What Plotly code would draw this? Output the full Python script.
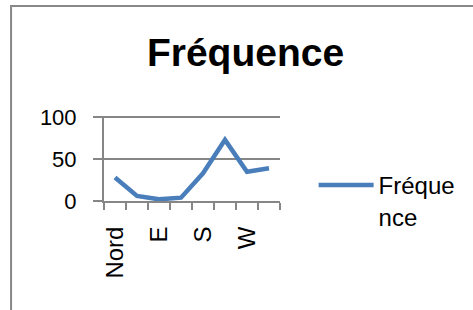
import plotly.graph_objects as go

categories = ["Nord", "NE", "E", "SE", "S", "SW", "W", "NW"]
values = [28, 6, 2, 4, 33, 73, 35, 39]
series_name = "Fréquence"
legend_label = "Fréque<br>nce"
y_ticks = [0, 50, 100]
shown_labels = [c if i % 2 == 0 else "" for i, c in enumerate(categories)]

W, H = 473, 310
L, R, T, B = 104, 191, 116, 109
pw, ph = W - L - R, H - T - B

def px_x(px):
    return (px - L) / pw

def px_y(py):
    return (H - B - py) / ph

FONT = "Liberation Sans"
GRAY = "#868686"

fig = go.Figure()
fig.add_trace(go.Scatter(
    x=categories, y=values, mode="lines", name=legend_label,
    line=dict(color="#4A7EBB", width=4.5),
))

fig.update_layout(
    width=W, height=H,
    margin=dict(l=L, r=R, t=T, b=B, pad=0),
    paper_bgcolor="white", plot_bgcolor="white",
    font=dict(family=FONT, size=22, color="black"),
    title=dict(text="<b>" + series_name + "</b>", x=245.5 / W, xanchor="center",
               xref="container", y=1 - 52 / H, yref="container", yanchor="middle",
               font=dict(family=FONT, size=39, color="black")),
    showlegend=True,
    legend=dict(x=px_x(316), y=px_y(163), xanchor="left", yanchor="top",
                valign="top", itemwidth=55, font=dict(family=FONT, size=24),
                bgcolor="rgba(0,0,0,0)", borderwidth=0),
    xaxis=dict(
        type="category", tickson="boundaries",
        tickmode="array", tickvals=categories, ticktext=shown_labels,
        tickangle=-90, ticks="outside", ticklen=7, tickwidth=2, tickcolor=GRAY,
        showline=True, linecolor=GRAY, linewidth=2, showgrid=False,
        range=[-0.5, len(categories) - 0.5],
        ticklabelstandoff=14, tickfont=dict(family=FONT, size=24),
    ),
    yaxis=dict(
        range=[0, 101.5], tickmode="array", tickvals=y_ticks,
        ticks="outside", ticklen=9, tickwidth=2, tickcolor=GRAY,
        showline=True, linecolor=GRAY, linewidth=2,
        showgrid=True, gridcolor=GRAY, gridwidth=2, zeroline=False,
        ticklabelstandoff=12,
    ),
    shapes=[dict(type="rect", xref="paper", yref="paper",
                 x0=px_x(10), x1=px_x(485), y0=px_y(320), y1=px_y(6),
                 line=dict(color="#888888", width=2), fillcolor="rgba(0,0,0,0)",
                 layer="below")],
)

fig.write_html("out.html", config={"displayModeBar": False},
               post_script="document.body.style.margin='0';")
